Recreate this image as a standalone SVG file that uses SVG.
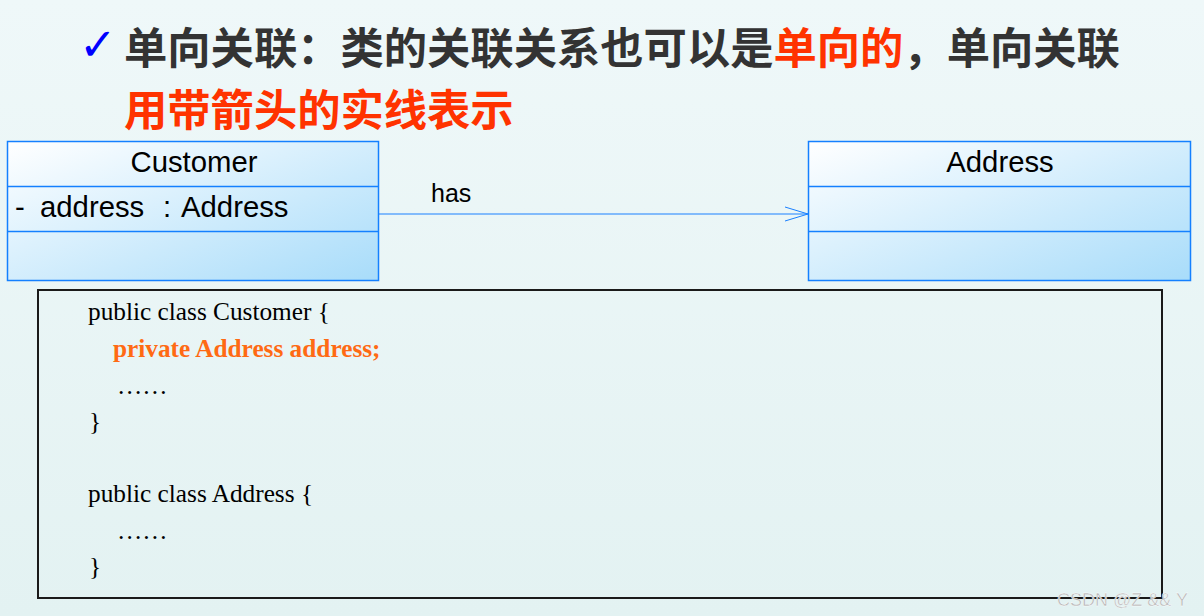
<svg xmlns="http://www.w3.org/2000/svg" width="1204" height="616" viewBox="0 0 1204 616">
<defs>
<linearGradient id="bg" x1="0" y1="0" x2="0" y2="1">
<stop offset="0" stop-color="#eff8f9"/>
<stop offset="1" stop-color="#e3f2f2"/>
</linearGradient>
<linearGradient id="cls" x1="0" y1="0" x2="1" y2="1">
<stop offset="0" stop-color="#ffffff"/>
<stop offset="1" stop-color="#a8dcfa"/>
</linearGradient>
<marker id="open" markerWidth="26" markerHeight="18" refX="24" refY="8" orient="auto" markerUnits="userSpaceOnUse">
<path d="M1,1 L24,8 L1,15" fill="none" stroke="#1a80ff" stroke-width="1"/>
</marker>
<style>
.title{font-family:"Noto Sans CJK SC","Noto Sans",sans-serif;font-size:43.3px;font-weight:bold}
.dark{fill:#333333}
.red{fill:#ff3300}
.box{fill:url(#cls);stroke:#1480ff;stroke-width:1.5}
.div{stroke:#1480ff;stroke-width:1.5}
.uml{font-family:"Liberation Sans",Arial,sans-serif;font-size:29.3px;fill:#000}
.code{font-family:"Liberation Serif","Times New Roman",serif;font-size:25.3px;fill:#000}
.hl{font-weight:bold;fill:#ff6a13}
</style>
</defs>
<rect width="1204" height="616" fill="url(#bg)"/>

<g id="title">
<text x="79" y="60" font-family="DejaVu Sans,sans-serif" font-size="45" fill="#0000ff">✓</text>
<text class="title" x="124" y="64"><tspan class="dark">单向关联：类的关联关系也可以是</tspan><tspan class="red">单向的</tspan><tspan class="dark">，单向关联</tspan></text>
<text class="title red" x="124" y="126">用带箭头的实线表示</text>
</g>

<g id="customer">
<rect class="box" x="7.5" y="141.5" width="371" height="139"/>
<line class="div" x1="7.5" y1="186.5" x2="378.5" y2="186.5"/>
<line class="div" x1="7.5" y1="231.5" x2="378.5" y2="231.5"/>
<text class="uml" x="194" y="172" text-anchor="middle">Customer</text>
<text class="uml" y="217"><tspan x="15">-</tspan><tspan x="40">address</tspan><tspan x="163">:</tspan><tspan x="181">Address</tspan></text>
</g>

<g id="address">
<rect class="box" x="808.5" y="141.5" width="382" height="139"/>
<line class="div" x1="808.5" y1="186.5" x2="1190.5" y2="186.5"/>
<line class="div" x1="808.5" y1="231.5" x2="1190.5" y2="231.5"/>
<text class="uml" x="1000" y="172" text-anchor="middle">Address</text>
</g>

<g id="connectors">
<line x1="379" y1="214" x2="808" y2="214" stroke="#1a80ff" stroke-width="1.2" marker-end="url(#open)"/>
<text x="431" y="202" font-family="Liberation Sans,Arial,sans-serif" font-size="25" fill="#000">has</text>
</g>

<g id="code">
<rect x="38" y="290" width="1124" height="308" fill="none" stroke="#1a1a1a" stroke-width="2"/>
<text class="code" x="88" y="320">public class Customer {</text>
<text class="code hl" x="113" y="357">private Address address;</text>
<text class="code" x="117" y="394">……</text>
<text class="code" x="89" y="430">}</text>
<text class="code" x="88" y="502">public class Address {</text>
<text class="code" x="117" y="539">……</text>
<text class="code" x="89" y="575">}</text>
</g>

<text x="1057" y="606" font-family="Liberation Sans,Arial,sans-serif" font-size="18" fill="#b4b4b4" stroke="#ffffff" stroke-width="0.4">CSDN @Z &amp;&amp; Y</text>
</svg>
